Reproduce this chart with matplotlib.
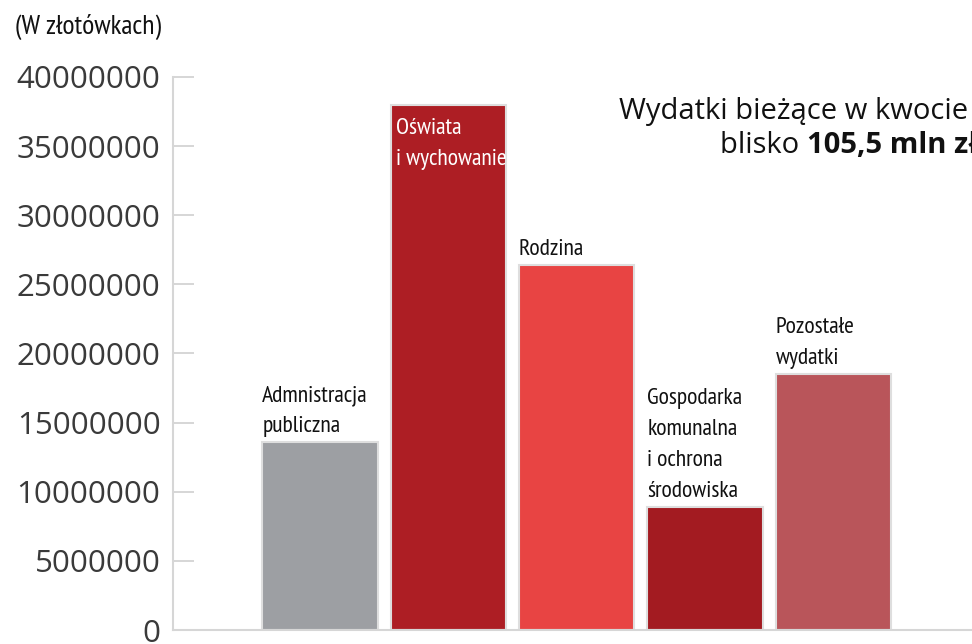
import numpy as np
import matplotlib.pyplot as plt
from matplotlib import font_manager

# data
categories = ['Admnistracja\npubliczna', 'Oświata\ni wychowanie', 'Rodzina',
              'Gospodarka\nkomunalna\ni ochrona\nśrodowiska', 'Pozostałe\nwydatki']
values = [13600000, 38000000, 26400000, 8900000, 18500000]
colors = ['#9d9fa3', '#ad1e24', '#e84443', '#a31b21', '#b9555a']
yticks = [0, 5000000, 10000000, 15000000, 20000000, 25000000, 30000000, 35000000, 40000000]

# pick a condensed family that has a regular (400) upright face
regular = {f.name for f in font_manager.fontManager.ttflist
           if f.style == 'normal' and f.weight in (400, 'normal', 'regular')}
narrow_pick = [n for n in ['PT Sans Narrow', 'Sofia Sans Condensed', 'Asap Condensed',
                           'Roboto Condensed'] if n in regular]
narrow = narrow_pick[:1] + ['DejaVu Sans']
main = ['Open Sans', 'DejaVu Sans']

fig = plt.figure(figsize=(9.72, 6.44), dpi=100)
ax = fig.add_axes([0.178, 0.0217, 0.822, 0.8588])

x = np.arange(len(values))
w = 0.9
ax.bar(x, values, width=w, color=colors, edgecolor='#dedede', linewidth=1.5, zorder=2)

ax.set_xlim(-1.145, 5.08)
ax.set_ylim(0, 40000000)
ax.set_yticks(yticks)
ax.set_yticklabels([str(v) for v in yticks], family=main, fontsize=22.5, color='#3a3a3a')
ax.set_xticks([])
ax.tick_params(axis='y', direction='in', length=15, width=1.2, color='#d0d0d0', pad=9)
for s in ['top', 'right']:
    ax.spines[s].set_visible(False)
for s in ['left', 'bottom']:
    ax.spines[s].set_color('#d6d6d6')
    ax.spines[s].set_linewidth(1.5)

# category labels
for i, (lab, v) in enumerate(zip(categories, values)):
    if i == 1:
        ax.annotate(lab, xy=(i - w / 2, v), xytext=(4, -9.5), textcoords='offset points',
                    ha='left', va='top', color='white', fontsize=17, family=narrow,
                    weight='normal', linespacing=1.62)
    else:
        ax.annotate(lab, xy=(i - w / 2, v), xytext=(0, 3.5), textcoords='offset points',
                    ha='left', va='bottom', color='#111111', fontsize=17, family=narrow,
                    weight='normal', linespacing=1.62)

fig.text(15 / 972, 1 - 27 / 644, '(W złotówkach)', ha='left', va='center',
         fontsize=20, family=narrow, weight='normal', color='#111111')

# summary note in the top right corner
fig.text(968 / 972, 1 - 119 / 644, 'Wydatki bieżące w kwocie', ha='right', va='baseline',
         fontsize=21, family=main, color='#111111')
bold = fig.text(978 / 972, 1 - 153 / 644, '105,5 mln zł', ha='right', va='baseline',
                fontsize=21, family=main, weight='bold', color='#111111')
ax.annotate('blisko ', xy=(0, 0), xycoords=bold, ha='right', va='bottom',
            fontsize=21, family=main, color='#111111', annotation_clip=False)

fig.savefig('out.png', dpi=100)
